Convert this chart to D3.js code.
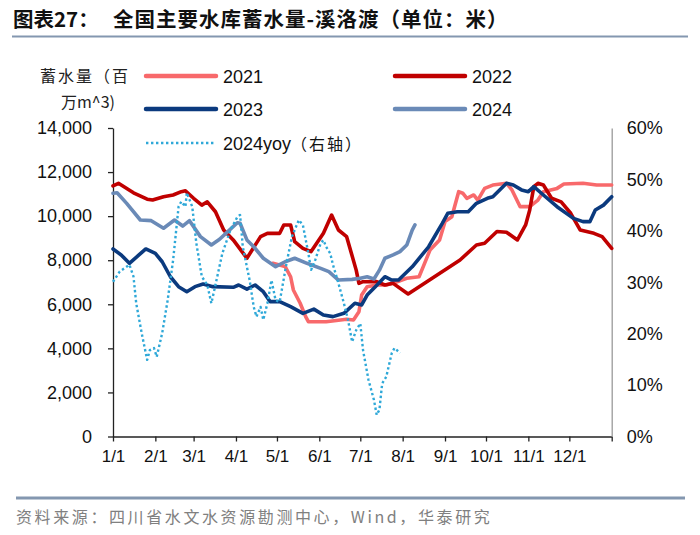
<!DOCTYPE html>
<html>
<head>
<meta charset="utf-8">
<script src="https://cdn.jsdelivr.net/npm/d3@7"></script>
<style>
  html, body { margin: 0; padding: 0; background: #fff; }
  svg { display: block; }
</style>
</head>
<body>
<div id="chart"></div>
<script>
// ---------- DATA ----------
const monthStarts = [0, 31, 59, 90, 120, 151, 181, 212, 243, 273, 304, 334];
const monthLabels = ["1/1","2/1","3/1","4/1","5/1","6/1","7/1","8/1","9/1","10/1","11/1","12/1"];
const leftTicks = [0, 2000, 4000, 6000, 8000, 10000, 12000, 14000];
const rightTicks = [0, 0.1, 0.2, 0.3, 0.4, 0.5, 0.6];

// [day of year, storage (百万m^3)]
const s2021 = [[117,7860],[126,7710],[130,7250],[132,6650],[137,6045],[141,5440],[143,5210],[156,5210],[171,5320],[176,5290],[180,5660],[182,6420],[186,6800],[193,6875],[200,6875],[208,7025],[215,7180],[224,7250],[227,7700],[232,8460],[239,8920],[243,9750],[248,9975],[253,11110],[256,11040],[259,10810],[264,10960],[267,10730],[272,11260],[278,11410],[288,11490],[292,11190],[298,10430],[305,10430],[311,10730],[315,11110],[325,11260],[330,11460],[344,11490],[354,11410],[365,11410]];
const s2022 = [[0,11370],[4,11490],[15,11060],[25,10770],[29,10730],[37,10880],[44,10960],[50,11110],[53,11150],[59,10810],[65,10500],[69,10650],[75,10200],[81,9370],[88,8920],[98,8090],[108,9070],[113,9220],[122,9220],[125,9600],[130,9600],[133,8840],[139,8540],[145,8390],[154,9220],[160,10050],[165,9370],[171,9070],[178,7550],[180,6950],[183,7025],[193,7030],[199,6875],[205,6950],[216,6470],[254,8010],[266,8690],[272,8770],[281,9300],[288,9270],[296,8920],[302,9600],[305,10280],[308,11340],[311,11490],[315,11410],[321,10810],[328,10650],[335,10130],[342,9370],[352,9220],[358,9070],[365,8540]];
const s2023 = [[0,8510],[6,8240],[12,7860],[19,8240],[24,8510],[31,8310],[36,7930],[42,7250],[48,6800],[54,6570],[60,6800],[66,6920],[73,6800],[88,6770],[92,6875],[98,6690],[104,6875],[110,6570],[115,6120],[122,6120],[130,5890],[139,5590],[147,5780],[154,5510],[161,5440],[169,5590],[177,6045],[182,5970],[186,6420],[192,6800],[199,7250],[204,7100],[209,7100],[219,7700],[231,8610],[241,9675],[245,10130],[252,10200],[260,10200],[266,10580],[274,10810],[278,10880],[288,11490],[293,11410],[299,11190],[304,11110],[308,11340],[315,10960],[325,10430],[337,9900],[344,9750],[349,9750],[353,10280],[359,10500],[365,10880]];
const s2024 = [[0,11040],[3,11060],[10,10580],[20,9825],[28,9795],[37,9450],[45,9825],[51,9550],[56,9795],[64,9070],[72,8690],[78,8950],[84,9300],[91,9700],[93,9675],[98,8920],[103,8610],[110,8090],[119,7705],[126,7930],[133,8090],[142,7860],[152,7630],[158,7480],[165,7100],[175,7130],[181,7180],[186,7250],[191,7150],[195,7550],[199,8090],[205,8240],[210,8390],[215,8690],[219,9370],[221,9600]];
// [day of year, yoy (right axis)]
const s2024yoy = [[0,0.301],[5,0.321],[12,0.334],[15,0.311],[17,0.259],[21,0.201],[25,0.149],[27,0.168],[30,0.172],[32,0.155],[36,0.201],[40,0.265],[44,0.343],[48,0.447],[50,0.457],[53,0.447],[54,0.474],[58,0.447],[61,0.376],[65,0.311],[69,0.295],[72,0.259],[75,0.295],[80,0.356],[86,0.402],[91,0.427],[93,0.431],[95,0.369],[100,0.304],[103,0.252],[105,0.233],[108,0.252],[110,0.227],[113,0.259],[116,0.304],[119,0.265],[122,0.262],[127,0.337],[131,0.389],[136,0.421],[139,0.411],[143,0.356],[145,0.324],[148,0.343],[152,0.376],[154,0.382],[156,0.369],[159,0.356],[161,0.334],[165,0.298],[169,0.259],[172,0.227],[175,0.184],[178,0.207],[181,0.220],[183,0.168],[187,0.110],[191,0.071],[193,0.042],[195,0.052],[197,0.103],[200,0.116],[204,0.162],[206,0.172],[209,0.165],[210,0.162]];

const seriesNames = ["2021","2022","2023","2024","2024yoy（右轴）"];

// ---------- CHART ----------
const W = 700, H = 535;
const latin = "'Liberation Sans', Arial, sans-serif";
const cjk = "'Noto Sans CJK SC', 'Noto Sans', sans-serif";

const svg = d3.select("#chart").append("svg").attr("width", W).attr("height", H);

const x = d3.scaleLinear().domain([0, 365]).range([113, 611.7]);
const yL = d3.scaleLinear().domain([0, 14000]).range([436.5, 128]);
const yR = d3.scaleLinear().domain([0, 0.6]).range([436.5, 128]);

// title
svg.append("text").attr("x", 13).attr("y", 27)
  .attr("font-family", cjk).attr("font-weight", "bold").attr("font-size", 20.5).attr("fill", "#111")
  .text("图表27：");
svg.append("text").attr("x", 113).attr("y", 27)
  .attr("font-family", cjk).attr("font-weight", "bold").attr("font-size", 20.5).attr("letter-spacing", 1).attr("fill", "#111")
  .text("全国主要水库蓄水量-溪洛渡（单位：米）");
svg.append("line").attr("x1", 12).attr("x2", 688).attr("y1", 36.5).attr("y2", 36.5)
  .attr("stroke", "#8497b0").attr("stroke-width", 2);

// footer
svg.append("line").attr("x1", 16).attr("x2", 685).attr("y1", 498).attr("y2", 498)
  .attr("stroke", "#8497b0").attr("stroke-width", 3);
svg.append("text").attr("x", 16).attr("y", 523)
  .attr("font-family", cjk).attr("font-size", 16).attr("letter-spacing", 2.6).attr("fill", "#808080")
  .text("资料来源：四川省水文水资源勘测中心，Wind，华泰研究");

// y axis title
svg.append("text").attr("x", 85).attr("y", 82).attr("text-anchor", "middle")
  .attr("font-family", cjk).attr("font-size", 16).attr("letter-spacing", 2).attr("fill", "#222")
  .text("蓄水量（百");
svg.append("text").attr("x", 115).attr("y", 108).attr("text-anchor", "end")
  .attr("font-family", cjk).attr("font-size", 16).attr("fill", "#222")
  .text("万m^3)");

// axes
const gL = svg.append("g").attr("transform", "translate(113,0)")
  .call(d3.axisLeft(yL).tickValues(leftTicks).tickFormat(d3.format(",")).tickSize(5).tickSizeOuter(0).tickPadding(16));
const gB = svg.append("g").attr("transform", "translate(0,436.5)")
  .call(d3.axisBottom(x).tickValues(monthStarts.concat([365])).tickFormat((d) => {
    const i = monthStarts.indexOf(d); return i >= 0 ? monthLabels[i] : "";
  }).tickSize(5).tickSizeOuter(0).tickPadding(8));
const gR = svg.append("g").attr("transform", "translate(611.7,0)")
  .call(d3.axisRight(yR).tickValues(rightTicks).tickFormat(d3.format(".0%")).tickSize(0).tickPadding(15));

[gL, gB, gR].forEach(g => {
  g.selectAll("text").attr("font-family", latin).attr("font-size", 18).attr("fill", "#111");
  g.selectAll("path, line").attr("stroke", "#222").attr("stroke-width", 1.3);
});
gB.selectAll("text").attr("font-size", 17);
gR.select("path").attr("stroke", "#9a9a9a");

// lines
const lineL = d3.line().x(d => x(d[0])).y(d => yL(d[1]));
const lineR = d3.line().x(d => x(d[0])).y(d => yR(d[1]));

const styles = [
  { data: s2021, color: "#f8696b", w: 3.6, gen: lineL },
  { data: s2022, color: "#c00000", w: 3.6, gen: lineL },
  { data: s2023, color: "#0b3a7e", w: 3.6, gen: lineL },
  { data: s2024, color: "#6a8ab7", w: 3.6, gen: lineL },
  { data: s2024yoy, color: "#2ea8d8", w: 2.4, gen: lineR, dash: "2.4,2.6" }
];

const plot = svg.append("g");
styles.forEach(s => {
  plot.append("path").datum(s.data).attr("d", s.gen)
    .attr("fill", "none").attr("stroke", s.color).attr("stroke-width", s.w)
    .attr("stroke-linejoin", "round").attr("stroke-linecap", s.dash ? "butt" : "round")
    .attr("stroke-dasharray", s.dash || null);
});

// legend
const legendPos = [
  { x: 146, y: 76 }, { x: 395, y: 76 }, { x: 146, y: 109 }, { x: 395, y: 109 }, { x: 146, y: 143 }
];
styles.forEach((s, i) => {
  const p = legendPos[i];
  svg.append("line").attr("x1", p.x).attr("x2", p.x + 70).attr("y1", p.y).attr("y2", p.y)
    .attr("stroke", s.color).attr("stroke-width", s.dash ? 2.4 : 4.5)
    .attr("stroke-linecap", s.dash ? "butt" : "round")
    .attr("stroke-dasharray", s.dash || null);
  const t = svg.append("text").attr("x", p.x + 77).attr("y", p.y + 6.5)
    .attr("font-family", latin).attr("font-size", 18).attr("fill", "#111");
  if (i === 4) {
    t.append("tspan").text("2024yoy");
    t.append("tspan").attr("font-family", cjk).attr("font-size", 16).attr("letter-spacing", 2).text("（右轴）");
  } else {
    t.text(seriesNames[i]);
  }
});
</script>
</body>
</html>
